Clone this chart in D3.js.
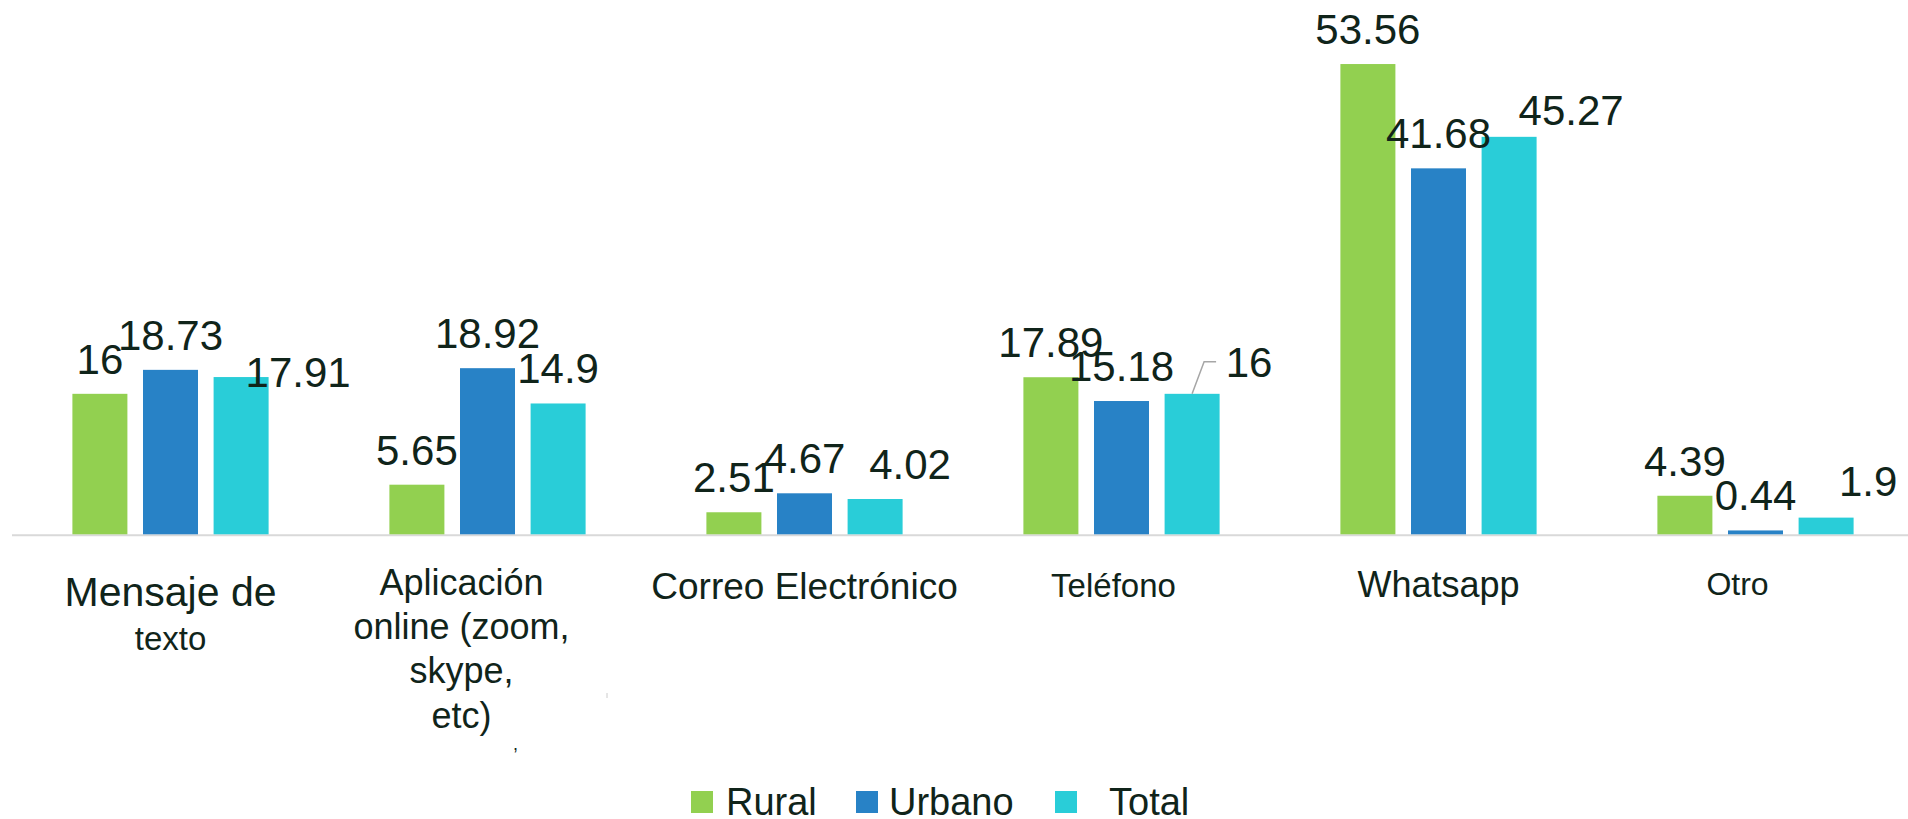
<!DOCTYPE html>
<html>
    <head>
        <meta charset="utf-8">
        <title>Medio de comunicación</title>
        <script src="https://d3js.org/d3.v7.min.js"></script>
        <style>
            body {
                margin: 0;
                background-color: #ffffff;
                font-family: "Liberation Sans", Arial, sans-serif;
            }
            svg {
                display: block;
            }
        </style>
    </head>
    <body>
        <svg width="1908" height="819"></svg>

        <script>
            // data
            const categories = ["Mensaje de texto", "Aplicación online (zoom, skype, etc)", "Correo Electrónico", "Teléfono", "Whatsapp", "Otro"];
            const series = ["Rural", "Urbano", "Total"];
            const rural = [16, 5.65, 2.51, 17.89, 53.56, 4.39];
            const urbano = [18.73, 18.92, 4.67, 15.18, 41.68, 0.44];
            const total = [17.91, 14.9, 4.02, 16, 45.27, 1.9];
            const tickLines = [
                ["Mensaje de", "texto"],
                ["Aplicación", "online (zoom,", "skype,", "etc)"],
                ["Correo Electrónico"],
                ["Teléfono"],
                ["Whatsapp"],
                ["Otro"]
            ];

            // look and layout
            const colors = {Rural: "#92d050", Urbano: "#2882c6", Total: "#29cdd8"};
            const textColor = "#10241a";
            // hand-moved data labels in the original: [dx, dy]
            const labelNudge = {
                Rural:  [[0, 0], [0, 0], [0, 0], [0, 0], [0, 0], [0, 0]],
                Urbano: [[0, 0], [0, 0], [0, 0], [0, 0], [0, 0], [0, 0]],
                Total:  [[57, 30], [0, 0], [35, 0], [57, 3], [62, 8], [42, -2]]
            };
            // per tick: font sizes for each line, line baselines, x shift
            const tickStyle = [
                {sizes: [41, 33], ys: [606, 650], dx: 0},
                {sizes: [36, 36, 36, 36], ys: [595, 639, 683, 728], dx: -26},
                {sizes: [37], ys: [599], dx: 0},
                {sizes: [33], ys: [597], dx: -8},
                {sizes: [36], ys: [597], dx: 0},
                {sizes: [32], ys: [595], dx: -18}
            ];

            const values = {Rural: rural, Urbano: urbano, Total: total};
            const svg = d3.select("svg");

            const x0 = d3.scaleBand()
                .domain(categories)
                .range([12, 1914]);

            const x1 = d3.scaleBand()
                .domain(series)
                .range([60.4, 256.6])
                .paddingInner(0.221);

            const y = d3.scaleLinear()
                .domain([0, 60])
                .range([534.3, 7.5]);

            // baseline
            svg.append("line")
                .attr("x1", 12).attr("x2", 1908)
                .attr("y1", y(0) + 1).attr("y2", y(0) + 1)
                .attr("stroke", "#d9d9d9")
                .attr("stroke-width", 2);

            // bars
            const rows = [];
            categories.forEach((c, i) => {
                series.forEach(s => {
                    rows.push({cat: c, i: i, s: s, v: values[s][i]});
                });
            });

            svg.append("g").selectAll("rect")
                .data(rows)
                .enter()
                .append("rect")
                .attr("x", d => x0(d.cat) + x1(d.s))
                .attr("y", d => y(d.v))
                .attr("width", x1.bandwidth())
                .attr("height", d => y(0) - y(d.v))
                .attr("fill", d => colors[d.s]);

            // leader line for the moved "16" label on Teléfono / Total
            const tc = x0("Teléfono") + x1("Total") + x1.bandwidth() / 2;
            const tt = y(total[3]);
            svg.append("path")
                .attr("d", d3.line()([[tc, tt], [tc + 12, tt - 32], [tc + 24, tt - 32]]))
                .attr("fill", "none")
                .attr("stroke", "#a6a6a6")
                .attr("stroke-width", 1.5);

            // data labels
            svg.append("g").selectAll("text")
                .data(rows)
                .enter()
                .append("text")
                .attr("x", d => x0(d.cat) + x1(d.s) + x1.bandwidth() / 2 + labelNudge[d.s][d.i][0])
                .attr("y", d => y(d.v) - 20 + labelNudge[d.s][d.i][1])
                .attr("text-anchor", "middle")
                .attr("font-size", "42px")
                .attr("fill", textColor)
                .text(d => String(d.v));

            // category labels
            const ticks = svg.append("g");
            categories.forEach((c, i) => {
                const cx = x0(c) + x0.bandwidth() / 2 + tickStyle[i].dx;
                tickLines[i].forEach((line, k) => {
                    ticks.append("text")
                        .attr("x", cx)
                        .attr("y", tickStyle[i].ys[k])
                        .attr("text-anchor", "middle")
                        .attr("font-size", tickStyle[i].sizes[k] + "px")
                        .attr("fill", textColor)
                        .text(line);
                });
            });

            // stray marks in the original
            svg.append("text")
                .attr("x", 513).attr("y", 750)
                .attr("font-size", "18px")
                .attr("fill", textColor)
                .text(",");
            svg.append("line")
                .attr("x1", 607).attr("x2", 607)
                .attr("y1", 693).attr("y2", 698)
                .attr("stroke", "#cccccc");

            // legend
            const legendX = [691, 856, 1055];
            const legendTextX = [726, 889, 1109];
            const legend = svg.append("g");
            series.forEach((s, i) => {
                legend.append("rect")
                    .attr("x", legendX[i])
                    .attr("y", 791)
                    .attr("width", 22)
                    .attr("height", 22)
                    .attr("fill", colors[s]);
                legend.append("text")
                    .attr("x", legendTextX[i])
                    .attr("y", 815)
                    .attr("font-size", "38px")
                    .attr("fill", textColor)
                    .text(s);
            });
        </script>
    </body>
</html>
